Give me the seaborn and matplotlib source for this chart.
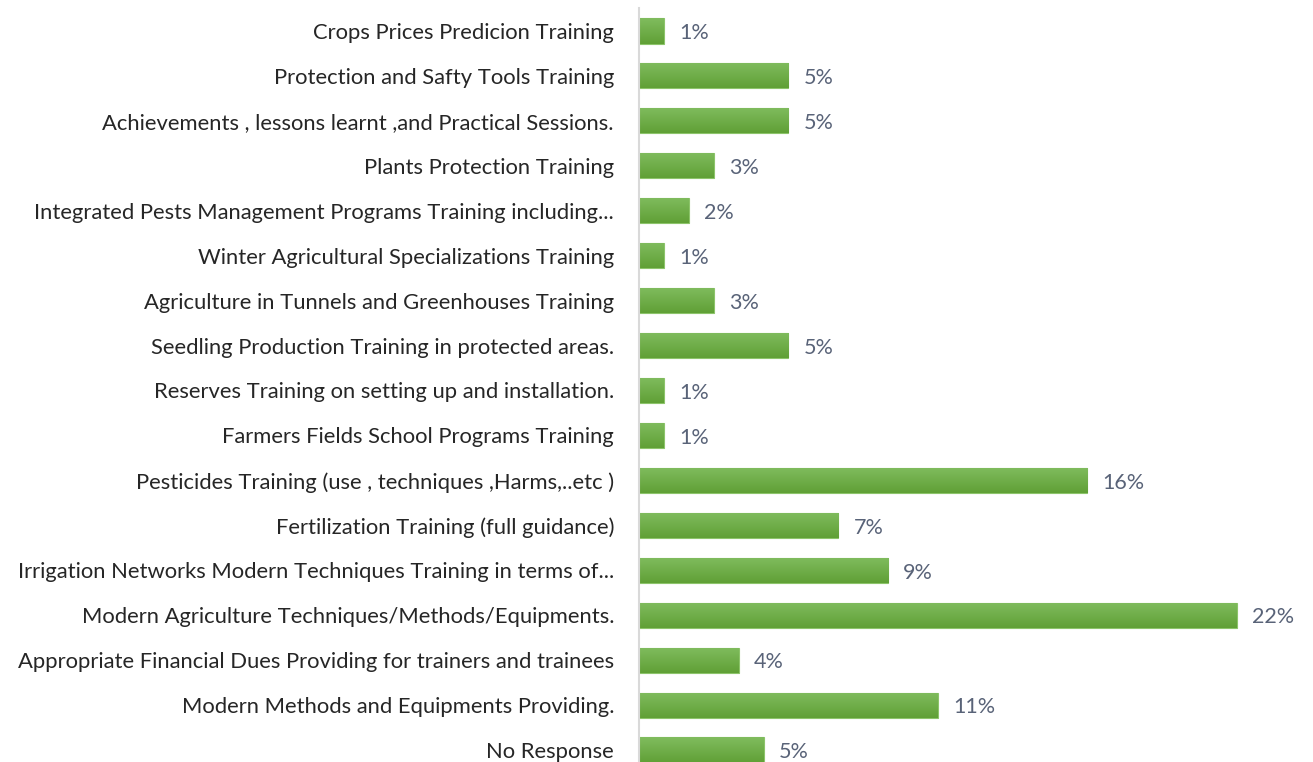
import numpy as np
import pandas as pd
import matplotlib.pyplot as plt
import seaborn as sns
from matplotlib.colors import LinearSegmentedColormap

categories = [
    "Crops Prices Predicion Training",
    "Protection and Safty Tools Training",
    "Achievements , lessons learnt ,and Practical Sessions.",
    "Plants Protection Training",
    "Integrated Pests Management Programs Training including...",
    "Winter Agricultural Specializations Training",
    "Agriculture in Tunnels and Greenhouses Training",
    "Seedling Production Training in protected areas.",
    "Reserves Training on setting up and installation.",
    "Farmers Fields School Programs Training",
    "Pesticides Training (use , techniques ,Harms,..etc )",
    "Fertilization Training (full guidance)",
    "Irrigation Networks Modern Techniques Training in terms of...",
    "Modern Agriculture Techniques/Methods/Equipments.",
    "Appropriate Financial Dues Providing for trainers and trainees",
    "Modern Methods and Equipments Providing.",
    "No Response",
]
# share of respondents, in percent
values = [0.9, 5.4, 5.4, 2.7, 1.8, 0.9, 2.7, 5.4, 0.9, 0.9,
          16.2, 7.2, 9.0, 21.6, 3.6, 10.8, 4.5]
value_labels = ["1%", "5%", "5%", "3%", "2%", "1%", "3%", "5%", "1%", "1%",
                "16%", "7%", "9%", "22%", "4%", "11%", "5%"]

df = pd.DataFrame({"category": categories, "value": values, "label": value_labels})

sns.set_style("white")
plt.rcParams["font.family"] = ["Lato", "DejaVu Sans"]

fig = plt.figure(figsize=(13.13, 7.62), dpi=100)
ax = fig.add_axes([639 / 1313, 1 - 772.5 / 762, 661 / 1313, 764 / 762])

sns.barplot(data=df, x="value", y="category", orient="h", color="#6aaa42",
            width=0.56, ax=ax, edgecolor="#8cc46a", linewidth=0.8)

# gradient fill on each bar, light on top and a bit darker at the bottom
grad = LinearSegmentedColormap.from_list("g", ["#80bc5e", "#60a036"])
for patch in ax.patches:
    x0, y0 = patch.get_x(), patch.get_y()
    w, h = patch.get_width(), patch.get_height()
    im = ax.imshow(np.linspace(0, 1, 50).reshape(-1, 1), cmap=grad, aspect="auto",
                   extent=[x0, x0 + w, y0 + h, y0], zorder=patch.get_zorder() + 0.1,
                   interpolation="bilinear")
    im.set_clip_path(patch)
ax.set_xlim(0, 661 / 27.67)
ax.set_ylim(len(categories) - 0.5, -0.5)

for i, row in df.iterrows():
    ax.text(row["value"] + 0.55, i + 0.05, row["label"], va="center", ha="left",
            fontsize=15.5, color="#596378")

sns.despine(ax=ax, top=True, right=True, bottom=True)
ax.spines["left"].set_color("#d9d9d9")
ax.spines["left"].set_linewidth(1.5)
ax.set_xlabel("")
ax.set_ylabel("")
ax.set_xticks([])
ax.tick_params(axis="y", length=0, pad=18, labelsize=15.8, labelcolor="#262626")

fig.savefig("out.png", dpi=100)
